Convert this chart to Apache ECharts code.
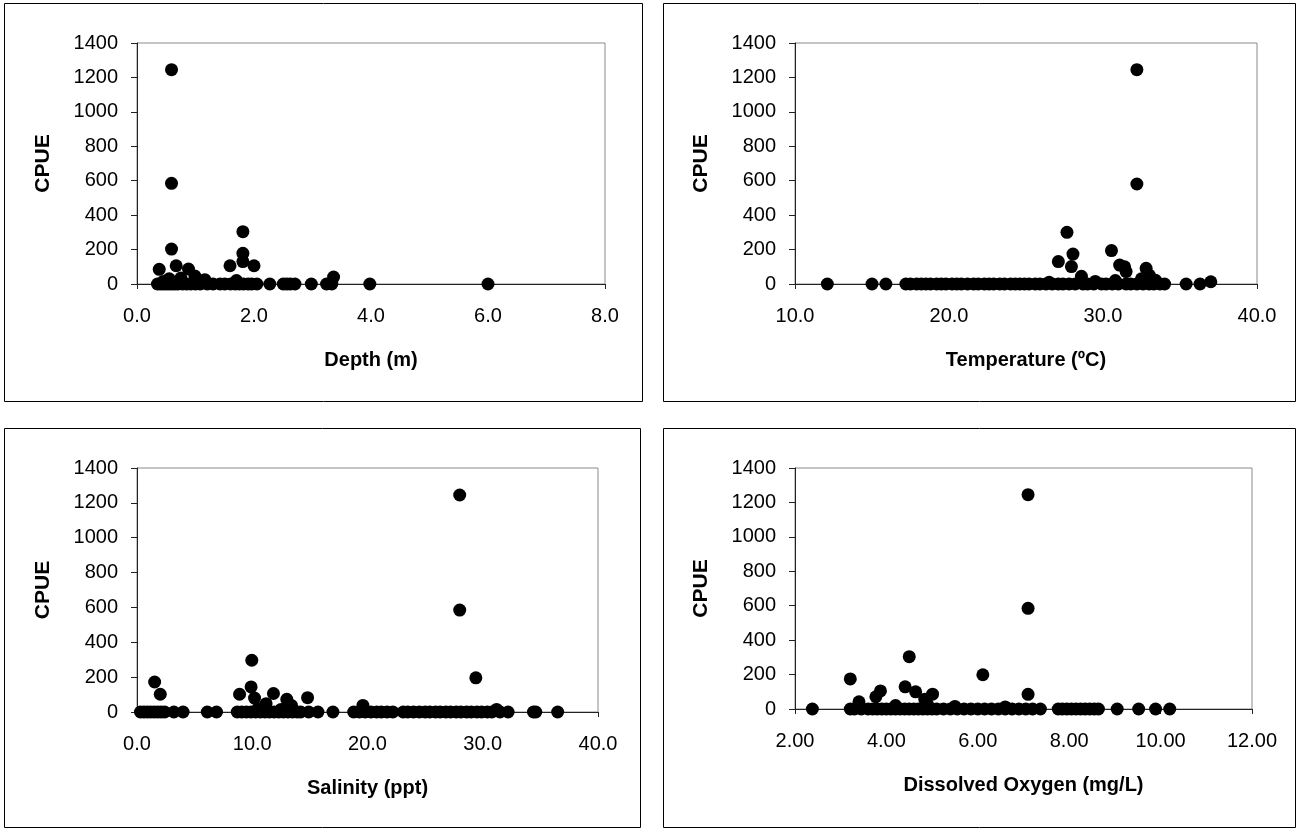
<!DOCTYPE html>
<html>
<head>
<meta charset="utf-8">
<script src="https://cdn.jsdelivr.net/npm/echarts@6/dist/echarts.min.js"></script>
<style>
html,body{margin:0;padding:0;background:#fff;}
#chart{width:1304px;height:831px;}
</style>
</head>
<body>
<div id="chart"></div>
<script>
// ---------- DATA ----------
const yTitle = 'CPUE';
const xTitles = ['Depth (m)', 'Temperature (\u00BAC)', 'Salinity (ppt)', 'Dissolved Oxygen (mg/L)'];

// Depth (m) vs CPUE  [depth, CPUE]
const depthPoints = [
  [0.59,1245],[0.59,585],[0.59,203],[0.67,106],[0.38,85],[0.88,87],[0.99,46],[1.16,25],
  [1.59,106],[1.81,304],[1.81,178],[1.81,130],[2.0,106],[3.36,40],[0.55,30],[0.75,35],[1.7,20],[0.45,15],[1.0,10],
  [0.35,0],[0.4,0],[0.45,0],[0.5,0],[0.55,0],[0.6,0],[0.65,0],[0.7,0],[0.78,0],[0.85,0],[0.92,0],[1.0,0],
  [1.08,0],[1.2,0],[1.3,0],[1.42,0],[1.5,0],[1.6,0],[1.68,0],[1.75,0],[1.82,0],[1.9,0],[1.96,0],[2.05,0],
  [2.27,0],[2.5,0],[2.56,0],[2.62,0],[2.7,0],[2.98,0],[3.24,0],[3.33,0],[3.98,0],[6.0,0]
];

// Temperature (ºC) vs CPUE  [temperature, CPUE]
const tempPoints = [
  [32.2,1245],[32.2,581],[27.66,300],[28.05,174],[27.1,130],[27.95,101],[28.6,45],[30.55,194],
  [31.08,110],[31.4,100],[31.5,72],[32.8,91],[33.0,52],[33.4,22],[37.0,13],[29.5,15],[30.8,20],[32.5,30],[26.5,10],
  [12.1,0],[15.0,0],[15.9,0],[17.2,0],[17.5,0],[17.9,0],[18.2,0],[18.5,0],[18.8,0],[19.2,0],[19.5,0],
  [19.8,0],[20.2,0],[20.5,0],[20.8,0],[21.2,0],[21.6,0],[21.9,0],[22.3,0],[22.6,0],[22.9,0],[23.3,0],
  [23.6,0],[24.0,0],[24.3,0],[24.6,0],[24.9,0],[25.2,0],[25.6,0],[25.9,0],[26.3,0],[26.7,0],[27.1,0],
  [27.4,0],[27.8,0],[28.2,0],[28.7,0],[29.0,0],[29.4,0],[29.9,0],[30.2,0],[30.6,0],[31.0,0],[31.5,0],
  [31.8,0],[32.2,0],[32.6,0],[33.0,0],[33.3,0],[33.7,0],[34.0,0],[35.4,0],[36.3,0]
];

// Salinity (ppt) vs CPUE  [salinity, CPUE]
const salPoints = [
  [28.0,1245],[28.0,585],[1.53,172],[2.02,102],[9.96,297],[9.9,144],[8.9,102],[10.2,80],[11.2,48],
  [11.84,106],[13.0,73],[13.4,38],[14.8,82],[19.6,38],[29.4,196],[31.2,15],[10.5,20],[12.5,15],
  [0.3,0],[0.6,0],[0.9,0],[1.2,0],[1.5,0],[1.8,0],[2.1,0],[2.4,0],[3.2,0],[4.0,0],[6.1,0],[6.9,0],
  [8.7,0],[9.1,0],[9.5,0],[9.9,0],[10.3,0],[10.7,0],[11.1,0],[11.5,0],[11.9,0],[12.3,0],[12.7,0],
  [13.1,0],[13.5,0],[13.9,0],[14.2,0],[14.9,0],[15.7,0],[17.0,0],[18.8,0],[19.3,0],[19.8,0],[20.3,0],
  [20.8,0],[21.2,0],[21.7,0],[22.2,0],[23.1,0],[23.5,0],[24.0,0],[24.5,0],[25.0,0],[25.4,0],[25.9,0],
  [26.3,0],[26.8,0],[27.2,0],[27.7,0],[28.1,0],[28.6,0],[29.0,0],[29.5,0],[29.9,0],[30.4,0],[30.8,0],
  [31.5,0],[32.2,0],[34.4,0],[34.6,0],[36.5,0]
];

// Dissolved Oxygen (mg/L) vs CPUE  [DO, CPUE]
const doPoints = [
  [7.1,1245],[7.1,585],[7.1,85],[3.21,175],[3.40,42],[3.77,71],[3.87,105],[4.41,129],[4.50,304],
  [4.64,100],[4.84,57],[5.01,86],[6.11,199],[4.2,20],[5.5,15],[6.6,12],[4.9,25],
  [2.38,0],[3.21,0],[3.3,0],[3.45,0],[3.6,0],[3.7,0],[3.8,0],[3.9,0],[4.0,0],[4.1,0],[4.2,0],[4.3,0],
  [4.4,0],[4.5,0],[4.6,0],[4.7,0],[4.8,0],[4.9,0],[5.0,0],[5.1,0],[5.25,0],[5.4,0],[5.55,0],[5.7,0],
  [5.85,0],[6.0,0],[6.15,0],[6.3,0],[6.45,0],[6.6,0],[6.75,0],[6.9,0],[7.05,0],[7.2,0],[7.37,0],
  [7.76,0],[7.85,0],[7.95,0],[8.05,0],[8.15,0],[8.25,0],[8.35,0],[8.45,0],[8.55,0],[8.64,0],
  [9.05,0],[9.52,0],[9.89,0],[10.2,0]
];

const yTicks = {min: 0, max: 1400, interval: 200};
const xAxes = [
  {min: 0, max: 8, interval: 2, decimals: 1},
  {min: 10, max: 40, interval: 10, decimals: 1},
  {min: 0, max: 40, interval: 10, decimals: 1},
  {min: 2, max: 12, interval: 2, decimals: 2}
];

// ---------- LAYOUT ----------
const grids = [
  {left: 137, top: 43, width: 468, height: 241},
  {left: 795, top: 43, width: 462, height: 241},
  {left: 137, top: 468, width: 461, height: 244},
  {left: 795, top: 468, width: 457, height: 241}
];
const panels = [
  {x: 4.5, y: 3.5, w: 638, h: 398},
  {x: 663.5, y: 3.5, w: 632, h: 398},
  {x: 4.5, y: 428.5, w: 636, h: 399},
  {x: 663.5, y: 428.5, w: 632, h: 399}
];

const FONT = 'Liberation Sans, Arial, sans-serif';
const seriesData = [depthPoints, tempPoints, salPoints, doPoints];

const option = {
  animation: false,
  backgroundColor: '#fff',
  textStyle: {fontFamily: FONT, color: '#000'},
  graphic: panels.map(p => ({
    type: 'rect', shape: {x: p.x, y: p.y, width: p.w, height: p.h},
    style: {fill: 'none', stroke: '#000', lineWidth: 1}, silent: true, z: 0
  })),
  grid: grids.map(g => Object.assign({show: true, borderColor: '#8a8a8a', borderWidth: 1, backgroundColor: 'transparent', containLabel: false}, g)),
  xAxis: xAxes.map((a, i) => ({
    type: 'value', gridIndex: i, min: a.min, max: a.max, interval: a.interval,
    name: xTitles[i], nameLocation: 'middle', nameGap: 66,
    nameTextStyle: {fontFamily: FONT, fontWeight: 'bold', fontSize: 20, color: '#000'},
    axisLine: {show: true, onZero: false, lineStyle: {color: '#222', width: 1}},
    axisTick: {show: true, inside: false, length: 5, lineStyle: {color: '#222'}},
    axisLabel: {fontFamily: FONT, fontSize: 20, color: '#000', margin: 22,
      formatter: v => v.toFixed(a.decimals)},
    splitLine: {show: false}
  })),
  yAxis: grids.map((g, i) => ({
    type: 'value', gridIndex: i, min: yTicks.min, max: yTicks.max, interval: yTicks.interval,
    name: yTitle, nameLocation: 'middle', nameGap: 83, nameRotate: 90,
    nameTextStyle: {fontFamily: FONT, fontWeight: 'bold', fontSize: 21, color: '#000'},
    axisLine: {show: true, onZero: false, lineStyle: {color: '#222', width: 1}},
    axisTick: {show: true, inside: false, length: 6, lineStyle: {color: '#222'}},
    axisLabel: {fontFamily: FONT, fontSize: 20, color: '#000', margin: 19,
      formatter: v => String(v)},
    splitLine: {show: false}
  })),
  series: seriesData.map((d, i) => ({
    type: 'scatter', xAxisIndex: i, yAxisIndex: i,
    symbol: 'circle', symbolSize: 13,
    itemStyle: {color: '#000', opacity: 1},
    emphasis: {disabled: true},
    data: d,
    clip: false, z: 3
  }))
};

const chart = echarts.init(document.getElementById('chart'), null, {renderer: 'canvas'});
chart.setOption(option);
</script>
</body>
</html>
